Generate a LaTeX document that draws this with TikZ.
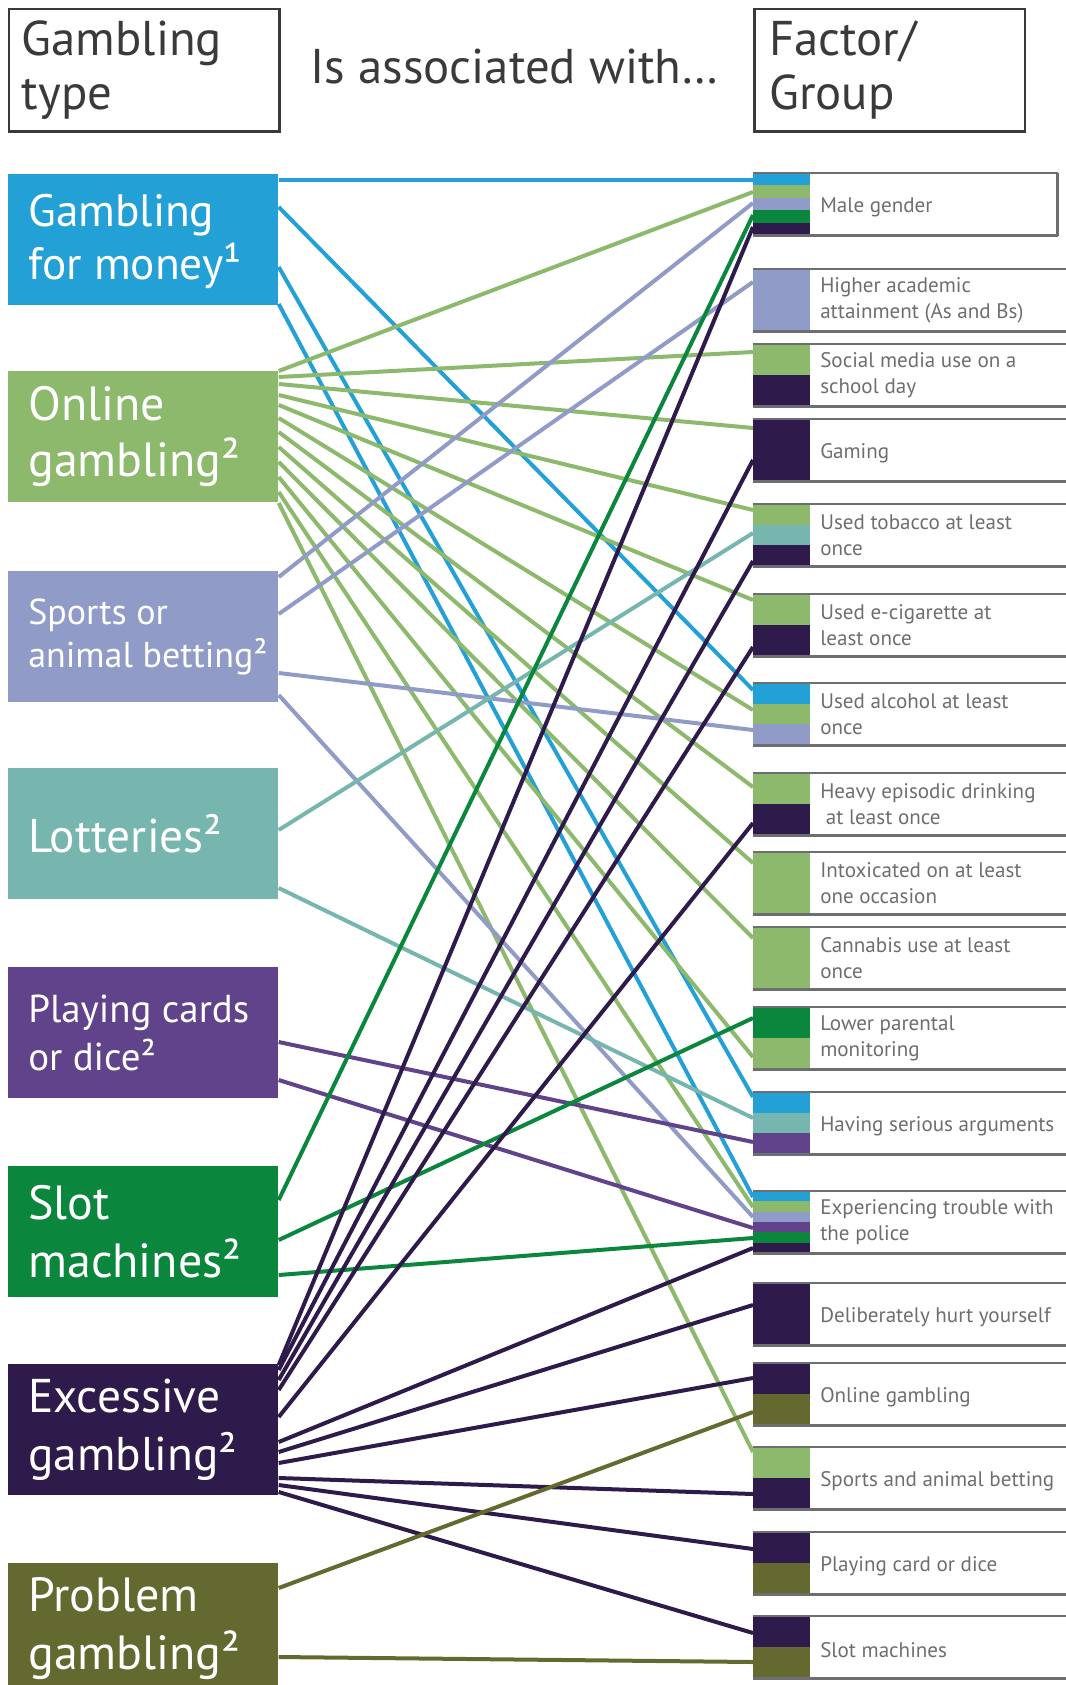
\documentclass[tikz,border=0pt]{standalone}
\usepackage{fontspec}
\setmainfont{PT Sans}
\usepackage{tikz}
\usetikzlibrary{calc,positioning,backgrounds}

\definecolor{moneyblue}{HTML}{23A0D6}
\definecolor{onlinegreen}{HTML}{8CB96C}
\definecolor{sportslav}{HTML}{919BC7}
\definecolor{lotteal}{HTML}{76B6AE}
\definecolor{cardpurple}{HTML}{60438A}
\definecolor{slotgreen}{HTML}{0A873D}
\definecolor{excessdark}{HTML}{2E1A4B}
\definecolor{problemolive}{HTML}{63692F}
\definecolor{framegray}{HTML}{6D6E71}
\definecolor{headgray}{HTML}{3A3A3A}

% one factor row: colour strips, frame lines and label
% [#1 label opts] #2 name, #3 top, #4 cut at right, #5 no. of strips, #6 strip colours, #7 label
\newcommand{\factorbox}[7][]{%
  \node[fbox] (#2) at (753,#3) {};
  \foreach \c [count=\i] in {#6}
    \fill[\c] ($(#2.north west)+(0,{(\i-1)*62/#5})$) rectangle ($(#2.north west)+(57,{\i*62/#5})$);
  \draw[fline] (#2.north west) -- ($(#2.north east)+(-#4,0)$);
  \draw[fline] (#2.south west) -- ($(#2.south east)+(-#4,0)$);
  \node[flabel,#1] (#2-txt) at ($(#2.west)+(67,0)$) {#7};
}

\begin{document}
\begin{tikzpicture}[
  x={(0.75pt,0)}, y={(0,-0.75pt)},
  hbox/.style={rectangle,draw=headgray,line width=1.9pt,anchor=north west,inner sep=0pt,minimum width=202.9pt,minimum height=91.9pt},
  htext/.style={anchor=west,align=left,text=headgray,inner sep=0pt,font=\fontsize{36.6}{40.5}\selectfont},
  gbox/.style={rectangle,anchor=north west,inner sep=0pt,minimum width=203pt,minimum height=98.25pt},
  gtext/.style={anchor=west,align=left,text=white,inner sep=0pt,font=\fontsize{35.5}{43.5}\selectfont},
  fbox/.style={rectangle,anchor=north west,inner sep=0pt,minimum width=234pt,minimum height=46.5pt},
  flabel/.style={anchor=west,align=left,text=framegray,inner sep=0pt,font=\fontsize{15.8}{19.5}\selectfont},
  fsingle/.style={yshift=-2.4pt},
  fline/.style={framegray,line width=2.2pt},
  link/.style={line width=3pt},
]
\useasboundingbox (0,0) rectangle (1065,1685);

% headings
\node[hbox] (gtype) at (7.5,7.5) {};
\node[htext] (gtype-txt) at ($(gtype.west)+(14,0)$) {Gambling\\type};
\node[htext,anchor=center] (assoc) at (514.5,67) {Is associated with…};
\node[hbox] (factor) at (753,7.5) {};
\node[htext] (factor-txt) at ($(factor.west)+(16,0)$) {Factor/\\Group};

% gambling types
\node[gbox,fill=moneyblue] (gfm) at (7.5,174) {};
\node[gtext,font=\fontsize{34}{40}\selectfont] (gfm-txt) at ($(gfm.west)+(20.5,2)$) {Gambling\\for money¹};
\node[gbox,fill=onlinegreen] (online) at (7.5,371) {};
\node[gtext,font=\fontsize{36}{42}\selectfont] (online-txt) at ($(online.west)+(20.5,0)$) {Online\\gambling²};
\node[gbox,fill=sportslav] (sports) at (7.5,571) {};
\node[gtext,font=\fontsize{27}{32}\selectfont] (sports-txt) at ($(sports.west)+(20.5,0)$) {Sports or\\animal betting²};
\node[gbox,fill=lotteal] (lott) at (7.5,768) {};
\node[gtext] (lott-txt) at ($(lott.west)+(20.5,0)$) {Lotteries²};
\node[gbox,fill=cardpurple] (cards) at (7.5,967) {};
\node[gtext,font=\fontsize{29.2}{36}\selectfont] (cards-txt) at ($(cards.west)+(20.5,0)$) {Playing cards\\or dice²};
\node[gbox,fill=slotgreen] (slot) at (7.5,1166) {};
\node[gtext,font=\fontsize{36}{43.5}\selectfont] (slot-txt) at ($(slot.west)+(20.5,0)$) {Slot\\machines²};
\node[gbox,fill=excessdark] (excess) at (7.5,1364) {};
\node[gtext] (excess-txt) at ($(excess.west)+(20.5,0)$) {Excessive\\gambling²};
\node[gbox,fill=problemolive] (problem) at (7.5,1563) {};
\node[gtext,font=\fontsize{36}{43.5}\selectfont] (problem-txt) at ($(problem.west)+(20.5,0)$) {Problem\\gambling²};

% factors / groups
\factorbox[fsingle]{male}{173}{8}{5}{moneyblue,onlinegreen,sportslav,slotgreen,excessdark}{Male gender}
\draw[fline] ($(male.north east)+(-8,0)$) -- ($(male.south east)+(-8,0)$);
\factorbox{acad}{269}{0}{1}{sportslav}{Higher academic\\attainment (As and Bs)}
\factorbox{social}{344}{0}{2}{onlinegreen,excessdark}{Social media use on a\\school day}
\factorbox[fsingle]{gaming}{419}{0}{1}{excessdark}{Gaming}
\factorbox{tobacco}{504}{0}{3}{onlinegreen,lotteal,excessdark}{Used tobacco at least\\once}
\factorbox{ecig}{594}{0}{2}{onlinegreen,excessdark}{Used e-cigarette at\\least once}
\factorbox{alcohol}{683}{0}{3}{moneyblue,onlinegreen,sportslav}{Used alcohol at least\\once}
\factorbox{heavy}{773}{0}{2}{onlinegreen,excessdark}{Heavy episodic drinking\\\ at least once}
\factorbox{intox}{852}{0}{1}{onlinegreen}{Intoxicated on at least\\one occasion}
\factorbox{cannabis}{927}{0}{1}{onlinegreen}{Cannabis use at least\\once}
\factorbox{parent}{1007}{0}{2}{slotgreen,onlinegreen}{Lower parental\\monitoring}
\factorbox[fsingle]{argue}{1092}{0}{3}{moneyblue,lotteal,cardpurple}{Having serious arguments}
\factorbox{police}{1191}{0}{6}{moneyblue,onlinegreen,sportslav,cardpurple,slotgreen,excessdark}{Experiencing trouble with\\the police}
\factorbox[fsingle]{hurt}{1283}{0}{1}{excessdark}{Deliberately hurt yourself}
\factorbox[fsingle]{rgonline}{1363}{0}{2}{excessdark,problemolive}{Online gambling}
\factorbox[fsingle]{rgsports}{1447}{0}{2}{onlinegreen,excessdark}{Sports and animal betting}
\factorbox[fsingle]{rgcards}{1532}{0}{2}{excessdark,problemolive}{Playing card or dice}
\factorbox[fsingle]{rgslots}{1616}{0}{2}{excessdark,problemolive}{Slot machines}

% associations: type/offset -> factor/offset
\begin{scope}[on background layer]
\foreach \a/\da/\b/\db/\col in {
    gfm/6/male/7/moneyblue, gfm/33/alcohol/7/moneyblue, gfm/93/argue/5/moneyblue, gfm/130/police/6/moneyblue,
    online/0/male/19/onlinegreen, online/6/social/8/onlinegreen, online/13/gaming/9/onlinegreen,
    online/24/tobacco/6/onlinegreen, online/34/ecig/6/onlinegreen, online/47/alcohol/27/onlinegreen,
    online/61/heavy/14/onlinegreen, online/76/intox/11/onlinegreen, online/91/cannabis/11/onlinegreen,
    online/106/parent/50/onlinegreen, online/121/police/16/onlinegreen, online/132/rgsports/5/onlinegreen,
    sports/6/male/30/sportslav, sports/43/acad/13/sportslav, sports/102/alcohol/47/sportslav, sports/124/police/26/sportslav,
    lott/62/tobacco/29/lotteal, lott/120/argue/26/lotteal,
    cards/75/argue/50/cardpurple, cards/113/police/37/cardpurple,
    slot/34/male/42/slotgreen, slot/74/parent/11/slotgreen, slot/109/police/47/slotgreen,
    excess/1/male/54/excessdark, excess/6/gaming/41/excessdark, excess/16/tobacco/57/excessdark,
    excess/26/ecig/53/excessdark, excess/53/heavy/50/excessdark, excess/78/police/57/excessdark,
    excess/88/hurt/22/excessdark, excess/99/rgonline/15/excessdark, excess/114/rgsports/47/excessdark,
    excess/121/rgcards/17/excessdark, excess/128/rgslots/17/excessdark,
    problem/25/rgonline/49/problemolive, problem/94/rgslots/46/problemolive}
  \draw[link,\col] ($(\a.north east)+(0,\da)$) -- ($(\b.north west)+(0,\db)$);
\end{scope}
\end{tikzpicture}
\end{document}
